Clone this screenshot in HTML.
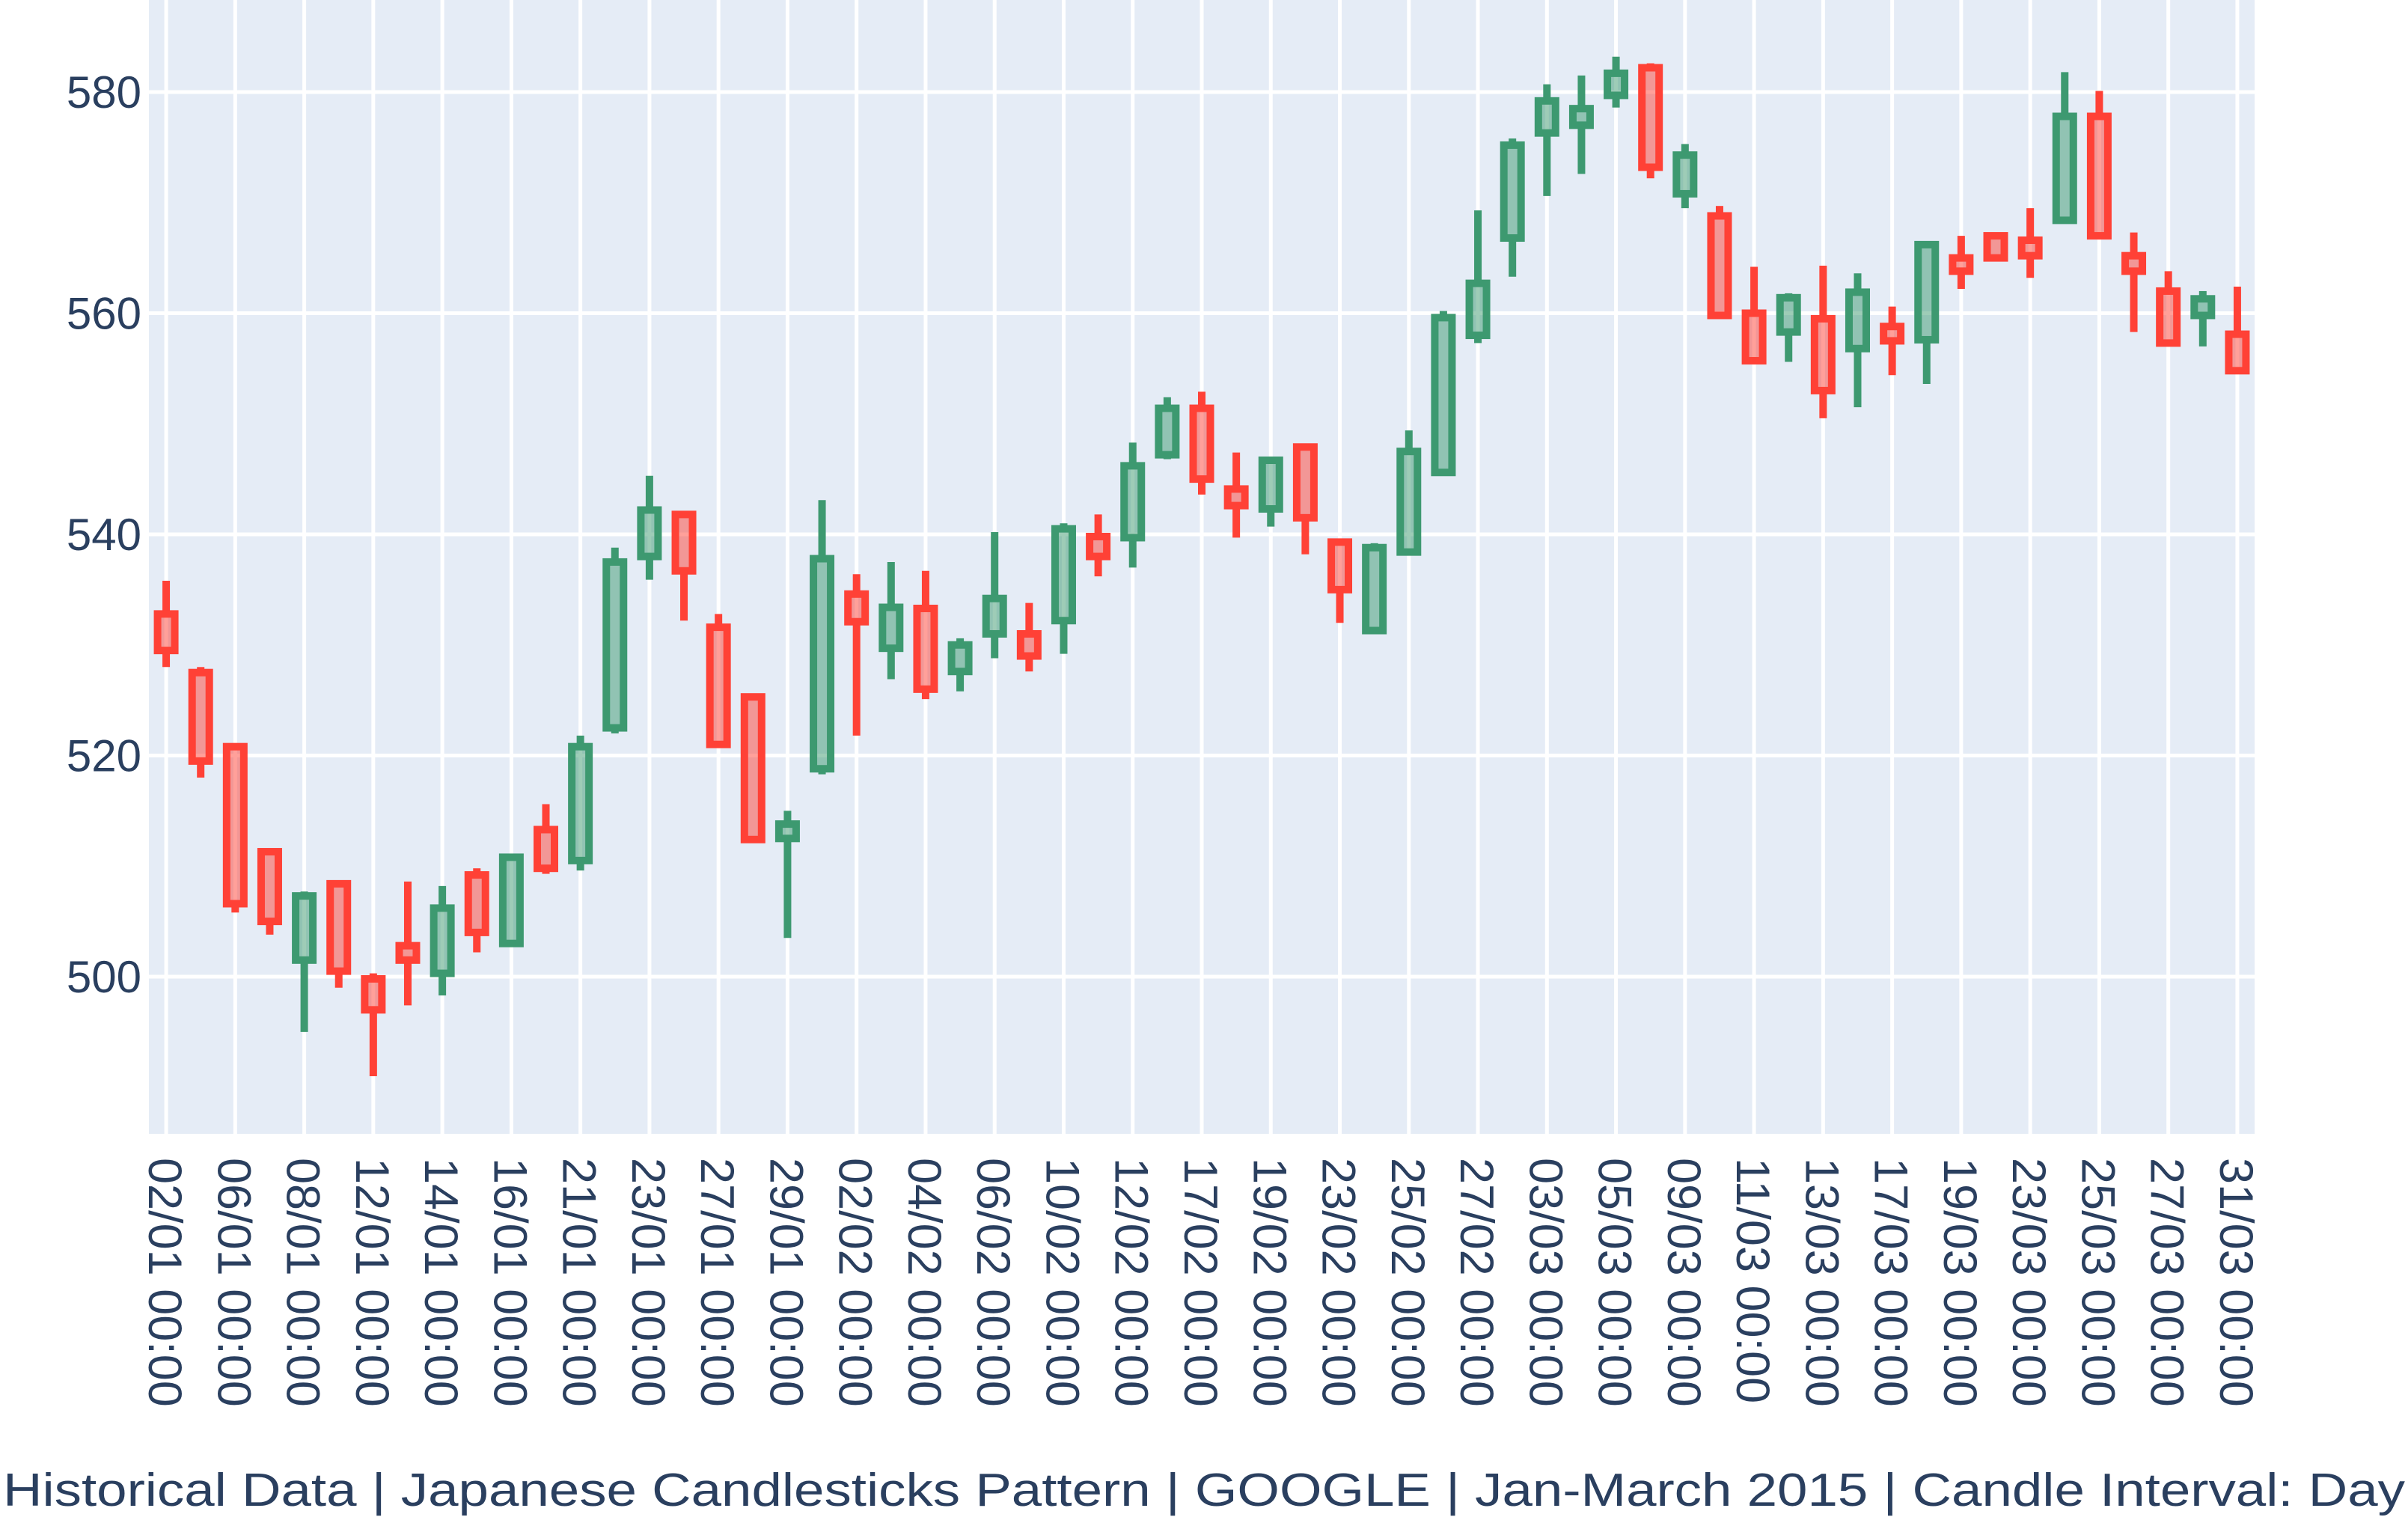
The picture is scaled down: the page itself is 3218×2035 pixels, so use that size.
<!DOCTYPE html>
<html><head><meta charset="utf-8"><style>
html,body{margin:0;padding:0;background:#fff;}
svg{display:block;font-family:"Liberation Sans",Arial,sans-serif;}
</style></head><body>
<svg id="chart" width="3218" height="2035" viewBox="0 0 3218 2035">
<rect x="199" y="0" width="2814" height="1515" fill="#E5ECF6"/>
<g id="grid"></g>
<g id="candles"></g>
<g id="yticks"></g>
<g id="xticks"></g>
<text x="1609" y="2012" text-anchor="middle" font-size="62" fill="#2a3f5f" textLength="3210" lengthAdjust="spacingAndGlyphs">Historical Data | Japanese Candlesticks Pattern | GOOGLE | Jan-March 2015 | Candle Interval: Day</text>
</svg>
<script>
const dates = ["02/01","05/01","06/01","07/01","08/01","09/01","12/01","13/01","14/01","15/01","16/01","20/01","21/01","22/01","23/01","26/01","27/01","28/01","29/01","30/01",
"02/02","03/02","04/02","05/02","06/02","09/02","10/02","11/02","12/02","13/02","17/02","18/02","19/02","20/02","23/02","24/02","25/02","26/02","27/02",
"02/03","03/03","04/03","05/03","06/03","09/03","10/03","11/03","12/03","13/03","16/03","17/03","18/03","19/03","20/03","23/03","24/03","25/03","26/03","27/03","30/03","31/03"];
const opens = [532.8,527.5,520.8,511.3,501.5,508.4,499.8,502.8,500.3,509.2,503,513.3,510.5,522.5,538,541.8,531.6,525.3,512.5,518.8,
534.6,529.7,533.3,527.6,531,531,532.2,539.8,539.7,547.2,551.4,544.1,542.3,547.9,539.3,531.3,538.4,545.6,558,
566.8,576.3,577,579.7,582.2,570.8,568.8,560,558.3,559.5,556.8,558.8,557.6,565,567,566.6,568.4,577.8,565.2,562,559.8,558.1];
const closes = [529.5,519.5,506.6,505,507.3,500.5,497,501.5,506.2,504,510.8,509.8,520.8,537.5,542.2,536.7,521,512.4,513.8,537.8,
532.1,533.4,526,530,534.2,529,540.5,538,546.2,551.4,545,542.6,546.7,541.5,535,538.8,547.5,559.6,562.7,
575.2,579.2,578.5,581.7,573.2,574.3,559.8,555.7,561.4,553,561.9,557.5,566.2,563.8,565,565.2,577.8,567,563.8,557.3,561.3,554.8];
const highs = [535.8,528,521,511.4,507.7,508.5,500.3,508.6,508.2,509.8,510.8,515.6,521.8,538.8,545.3,541.8,532.8,525.6,515,543.1,
536.4,537.5,536.7,530.6,540.2,533.8,541,541.8,548.3,552.4,552.9,547.4,546.7,547.9,539.3,539.2,549.4,560.2,569.3,
575.8,580.7,581.5,583.2,582.6,575.3,569.7,564.2,561.8,564.3,563.6,560.6,566.2,567,567.2,569.5,581.8,580.1,567.3,563.8,562,562.4];
const lows = [528,518,505.8,503.8,495,499,491,497.4,498.3,502.2,503,509.3,509.6,522,535.9,532.2,521,512.4,503.5,518.3,
521.8,526.9,525.1,525.8,528.8,527.6,529.2,536.2,537,546.8,543.6,539.7,540.7,538.2,532,531.1,538.4,545.3,557.3,
563.3,570.6,572.6,578.6,572.2,569.5,559.8,555.7,555.6,550.5,551.5,554.4,553.6,562.2,564.8,563.2,568.2,566.8,558.3,557,557,554.5];
const yTicks = [500,520,540,560,580];

const NS="http://www.w3.org/2000/svg";
const L=199,R=3013,T=0,B=1515;
const n=dates.length;
const step=(R-L)/n;
function xs(i){return L+step*(i+0.5);}
function ys(v){return 123+(580-v)*((1305-123)/80);}
function mk(tag,attrs,parent){const e=document.createElementNS(NS,tag);for(const k in attrs)e.setAttribute(k,attrs[k]);parent.appendChild(e);return e;}
const grid=document.getElementById('grid'),cg=document.getElementById('candles'),yg=document.getElementById('yticks'),xg=document.getElementById('xticks');
yTicks.forEach(v=>{
  const ln=mk('line',{x1:L,x2:R,y1:ys(v),y2:ys(v),stroke:'#fff','stroke-width':5},grid);
  
  
  const t=mk('text',{x:189,y:ys(v)+21,'text-anchor':'end','font-size':60,fill:'#2a3f5f'},yg);
  t.textContent=v;
  
  
});
for(let i=0;i<n;i+=2){
  const x=xs(i);
  const ln=mk('line',{x1:x,x2:x,y1:T,y2:B,stroke:'#fff','stroke-width':5},grid);
  
  
  const t=mk('text',{x:0,y:0,'font-size':63,fill:'#2a3f5f',transform:`translate(${x-23},1547) rotate(90)`},xg);
  t.textContent=dates[i]+' 00:00';
  
  
}
for(let i=0;i<n;i++){
  const up=closes[i]>=opens[i];
  const col=up?'#3D9970':'#FF4136';
  const g=mk('g',{},cg);
  
  
  const x=xs(i);
  const top=Math.max(opens[i],closes[i]),bot=Math.min(opens[i],closes[i]);
  mk('line',{x1:x,x2:x,y1:ys(highs[i]),y2:ys(top),stroke:col,'stroke-width':10},g);
  mk('line',{x1:x,x2:x,y1:ys(bot),y2:ys(lows[i]),stroke:col,'stroke-width':10},g);
  const y1=ys(top),y2=ys(bot);
  mk('rect',{x:x-11.5,y:y1,width:23,height:Math.max(0.5,y2-y1),fill:col,'fill-opacity':0.5,stroke:col,'stroke-width':10},g);
}
</script>
</body></html>
